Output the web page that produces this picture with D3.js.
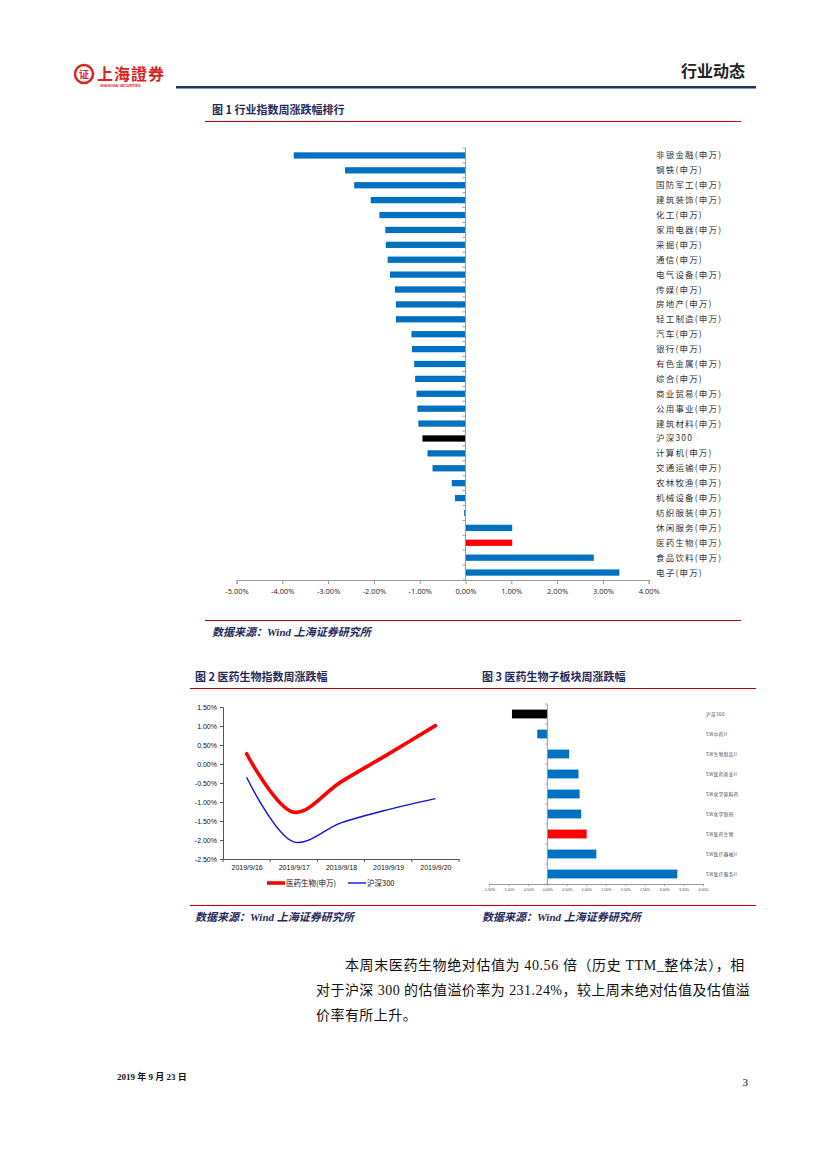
<!DOCTYPE html>
<html>
<head>
<meta charset="utf-8">
<script src="https://cdn.jsdelivr.net/npm/d3@7"></script>
<style>
  body { margin: 0; background: #fff; }
  svg { display: block; }
</style>
</head>
<body>
<script>
// Fig 1 - industry weekly change (%)
const industries = ['非银金融(申万)', '钢铁(申万)', '国防军工(申万)', '建筑装饰(申万)', '化工(申万)', '家用电器(申万)',
  '采掘(申万)', '通信(申万)', '电气设备(申万)', '传媒(申万)', '房地产(申万)', '轻工制造(申万)', '汽车(申万)',
  '银行(申万)', '有色金属(申万)', '综合(申万)', '商业贸易(申万)', '公用事业(申万)', '建筑材料(申万)', '沪深300',
  '计算机(申万)', '交通运输(申万)', '农林牧渔(申万)', '机械设备(申万)', '纺织服装(申万)', '休闲服务(申万)',
  '医药生物(申万)', '食品饮料(申万)', '电子(申万)'];
const industryChg = [-3.75, -2.63, -2.43, -2.07, -1.88, -1.75, -1.74, -1.70, -1.65, -1.54, -1.52, -1.52, -1.18,
  -1.17, -1.12, -1.10, -1.07, -1.05, -1.03, -0.94, -0.83, -0.72, -0.30, -0.23, -0.03, 1.02, 1.02, 2.80, 3.36];
const fig1Ticks = [-5, -4, -3, -2, -1, 0, 1, 2, 3, 4];

// Fig 2 - daily cumulative change (%)
const days = ['2019/9/16', '2019/9/17', '2019/9/18', '2019/9/19', '2019/9/20'];
const pharma = [0.27, -1.27, -0.47, 0.26, 1.01];
const hs300 = [-0.35, -2.05, -1.55, -1.20, -0.91];
const fig2Ticks = [1.5, 1.0, 0.5, 0, -0.5, -1.0, -1.5, -2.0, -2.5];

// Fig 3 - pharma sub-sectors weekly change (%)
const subSectors = ['沪深300', 'SW中药II', 'SW生物制品II', 'SW医药商业II', 'SW化学原料药', 'SW化学制剂',
  'SW医药生物', 'SW医疗器械II', 'SW医疗服务II'];
const subChg = [-0.91, -0.26, 0.56, 0.80, 0.83, 0.87, 1.01, 1.26, 3.34];
const fig3Ticks = [-1.5, -1.0, -0.5, 0, 0.5, 1.0, 1.5, 2.0, 2.5, 3.0, 3.5, 4.0];

const blue = '#0070c0';
const navy = '#1f2a5a';
// plain hyphen for negatives, like the source
const fmt = d => d.toFixed(2) + '%';
const barColor = name => name === '沪深300' ? '#000' : (name.indexOf('医药生物') >= 0 ? '#ff0000' : blue);

const svg = d3.select('body').append('svg')
  .attr('width', 827)
  .attr('height', 1169);

// ---------- header ----------
const hdr = svg.append('g');
hdr.append('circle').attr('cx', 84).attr('cy', 74).attr('r', 9)
  .attr('fill', 'none').attr('stroke', '#d7261e').attr('stroke-width', 2.5);
hdr.append('text').attr('x', 84).attr('y', 78).attr('text-anchor', 'middle')
  .style('font', 'bold 10px "Noto Sans CJK SC"').attr('fill', '#d7261e').text('证');
hdr.append('text').attr('x', 97).attr('y', 80)
  .style('font', 'bold 16px "Noto Sans CJK TC"').attr('fill', '#d7261e')
  .attr('letter-spacing', 1).text('上海證券');
hdr.append('text').attr('x', 100).attr('y', 87)
  .style('font', 'bold 3.5px Arial, "Liberation Sans"').attr('fill', '#d7261e')
  .text('SHANGHAI SECURITIES');
hdr.append('text').attr('x', 745).attr('y', 77).attr('text-anchor', 'end')
  .style('font', 'bold 16px "Noto Sans CJK SC"').attr('fill', '#222').text('行业动态');
hdr.append('rect').attr('x', 176).attr('y', 86).attr('width', 580).attr('height', 2.5).attr('fill', '#17375e');

// ---------- Figure 1 ----------
svg.append('text').attr('x', 212).attr('y', 114)
  .style('font', 'bold 11px "Noto Sans CJK SC"').attr('fill', navy).text('图 1 行业指数周涨跌幅排行');
svg.append('line').attr('x1', 205).attr('x2', 741).attr('y1', 121.5).attr('y2', 121.5)
  .attr('stroke', '#c00000').attr('stroke-width', 1);

const x1 = d3.scaleLinear().domain([-5, 4]).range([236.5, 648.7]);
const y1 = d3.scaleBand().domain(industries).range([148, 580]).paddingInner(0.58).paddingOuter(0.29);

const g1 = svg.append('g');
g1.selectAll('rect.bar').data(industries).join('rect')
  .attr('class', 'bar')
  .attr('x', (d, i) => x1(Math.min(0, industryChg[i])))
  .attr('width', (d, i) => Math.max(0.8, Math.abs(x1(industryChg[i]) - x1(0))))
  .attr('y', d => y1(d))
  .attr('height', y1.bandwidth())
  .attr('fill', d => barColor(d));

// category axis at zero
const yStep = y1.step();
g1.append('line').attr('x1', x1(0)).attr('x2', x1(0)).attr('y1', 148).attr('y2', 580)
  .attr('stroke', '#9a9a9a').attr('stroke-width', 1);
g1.selectAll('line.ytick').data(d3.range(industries.length + 1)).join('line')
  .attr('class', 'ytick')
  .attr('x1', x1(0) - 3).attr('x2', x1(0))
  .attr('y1', i => 148 + i * yStep).attr('y2', i => 148 + i * yStep)
  .attr('stroke', '#9a9a9a');

g1.selectAll('text.lab').data(industries).join('text')
  .attr('class', 'lab')
  .attr('x', 656)
  .attr('y', d => y1(d) + y1.bandwidth() / 2 + 3)
  .attr('letter-spacing', 1.2)
  .style('font', '8.5px "Noto Sans CJK SC"').attr('fill', '#333')
  .text(d => d);

const ax1 = g1.append('g').attr('transform', 'translate(0,580)')
  .call(d3.axisBottom(x1).tickValues(fig1Ticks).tickSize(4).tickFormat(fmt));
ax1.select('.domain').attr('stroke', '#9a9a9a');
ax1.selectAll('.tick line').attr('stroke', '#9a9a9a');
ax1.selectAll('.tick text').attr('y', 9).style('font', '7.5px "Open Sans", Arial').attr('fill', '#222');

svg.append('line').attr('x1', 205).attr('x2', 741).attr('y1', 620.5).attr('y2', 620.5)
  .attr('stroke', '#c00000').attr('stroke-width', 1);
svg.append('text').attr('x', 212).attr('y', 636)
  .style('font', 'italic bold 11px "Liberation Serif", "Noto Sans CJK SC"').attr('fill', navy)
  .text('数据来源：Wind  上海证券研究所');

// ---------- Figure 2 / 3 titles ----------
svg.append('text').attr('x', 195).attr('y', 681)
  .style('font', 'bold 11px "Noto Sans CJK SC"').attr('fill', navy).text('图 2 医药生物指数周涨跌幅');
svg.append('text').attr('x', 482).attr('y', 681)
  .style('font', 'bold 11px "Noto Sans CJK SC"').attr('fill', navy).text('图 3 医药生物子板块周涨跌幅');
svg.append('line').attr('x1', 190).attr('x2', 756).attr('y1', 688.5).attr('y2', 688.5)
  .attr('stroke', '#c00000').attr('stroke-width', 1);

// ---------- Figure 2 ----------
const x2 = d3.scalePoint().domain(days).range([223, 459]).padding(0.5);
const y2 = d3.scaleLinear().domain([-2.5, 1.5]).range([859, 707]);
const g2 = svg.append('g');

const ax2y = g2.append('g').attr('transform', 'translate(223,0)')
  .call(d3.axisLeft(y2).tickValues(fig2Ticks).tickSize(3).tickFormat(fmt));
ax2y.selectAll('.tick text').style('font', '7px Arial, "Liberation Sans"').attr('fill', '#111');
ax2y.select('.domain').attr('stroke', '#555');
ax2y.selectAll('.tick line').attr('stroke', '#555');

const ax2x = g2.append('g').attr('transform', 'translate(0,859)')
  .call(d3.axisBottom(x2).tickSize(0));
ax2x.select('.domain').attr('stroke', '#555');
ax2x.selectAll('.tick text').attr('y', 6).style('font', '7px Arial, "Liberation Sans"').attr('fill', '#111');
g2.selectAll('line.xt').data(d3.range(days.length + 1)).join('line')
  .attr('class', 'xt')
  .attr('x1', i => 223 + i * x2.step()).attr('x2', i => 223 + i * x2.step())
  .attr('y1', 859).attr('y2', 862).attr('stroke', '#555');

const line2 = d3.line().x((d, i) => x2(days[i])).y(d => y2(d)).curve(d3.curveCatmullRom.alpha(0.5));
g2.append('path').datum(hs300).attr('d', line2)
  .attr('fill', 'none').attr('stroke', '#1010e0').attr('stroke-width', 1.4);
g2.append('path').datum(pharma).attr('d', line2)
  .attr('fill', 'none').attr('stroke', '#ff0000').attr('stroke-width', 3.6).attr('stroke-linecap', 'round');

// legend
g2.append('line').attr('x1', 267).attr('x2', 285).attr('y1', 883).attr('y2', 883)
  .attr('stroke', '#ff0000').attr('stroke-width', 3.6);
g2.append('text').attr('x', 286).attr('y', 886)
  .style('font', '7.5px "Noto Sans CJK SC"').attr('fill', '#111').text('医药生物(申万)');
g2.append('line').attr('x1', 348).attr('x2', 366).attr('y1', 883).attr('y2', 883)
  .attr('stroke', '#1010e0').attr('stroke-width', 1.4);
g2.append('text').attr('x', 367).attr('y', 886)
  .style('font', '7.5px "Noto Sans CJK SC"').attr('fill', '#111').text('沪深300');

// ---------- Figure 3 ----------
const x3 = d3.scaleLinear().domain([-1.5, 4]).range([489, 703]);
const y3 = d3.scaleBand().domain(subSectors).range([704, 884]).paddingInner(0.56).paddingOuter(0.28);
const g3 = svg.append('g');

g3.selectAll('rect').data(subSectors).join('rect')
  .attr('x', (d, i) => x3(Math.min(0, subChg[i])))
  .attr('width', (d, i) => Math.abs(x3(subChg[i]) - x3(0)))
  .attr('y', d => y3(d))
  .attr('height', y3.bandwidth())
  .attr('fill', d => barColor(d));

g3.append('line').attr('x1', x3(0)).attr('x2', x3(0)).attr('y1', 704).attr('y2', 884)
  .attr('stroke', '#9a9a9a');
g3.selectAll('line.yt').data(d3.range(subSectors.length + 1)).join('line')
  .attr('class', 'yt')
  .attr('x1', x3(0) - 2).attr('x2', x3(0))
  .attr('y1', i => 704 + i * y3.step()).attr('y2', i => 704 + i * y3.step())
  .attr('stroke', '#9a9a9a');

g3.selectAll('text.lab').data(subSectors).join('text')
  .attr('class', 'lab')
  .attr('x', 706)
  .attr('y', d => y3(d) + y3.bandwidth() / 2 + 1.5)
  .attr('letter-spacing', 0.5)
  .style('font', '4.5px "Noto Sans CJK SC"').attr('fill', '#444')
  .text(d => d);

const ax3 = g3.append('g').attr('transform', 'translate(0,884)')
  .call(d3.axisBottom(x3).tickValues(fig3Ticks).tickSize(2).tickFormat(fmt));
ax3.select('.domain').attr('stroke', '#9a9a9a');
ax3.selectAll('.tick line').attr('stroke', '#9a9a9a');
ax3.selectAll('.tick text').attr('y', 4).style('font', '3.6px Arial, "Liberation Sans"').attr('fill', '#444');

// sources
svg.append('line').attr('x1', 190).attr('x2', 756).attr('y1', 905.5).attr('y2', 905.5)
  .attr('stroke', '#c00000').attr('stroke-width', 1);
svg.append('text').attr('x', 195).attr('y', 921)
  .style('font', 'italic bold 11px "Liberation Serif", "Noto Sans CJK SC"').attr('fill', navy)
  .text('数据来源：Wind 上海证券研究所');
svg.append('text').attr('x', 482).attr('y', 921)
  .style('font', 'italic bold 11px "Liberation Serif", "Noto Sans CJK SC"').attr('fill', navy)
  .text('数据来源：Wind 上海证券研究所');

// ---------- body paragraph ----------
const para = ['本周末医药生物绝对估值为 40.56 倍（历史 TTM_整体法），相',
  '对于沪深 300 的估值溢价率为 231.24%，较上周末绝对估值及估值溢',
  '价率有所上升。'];
svg.selectAll('text.para').data(para).join('text')
  .attr('class', 'para')
  .attr('x', (d, i) => i === 0 ? 345 : 316)
  .attr('y', (d, i) => 970 + i * 25)
  .attr('letter-spacing', (d, i) => i === 0 ? 0.6 : 0.45)
  .style('font', '14px "Liberation Serif", "Noto Sans CJK SC"').attr('fill', '#111')
  .text(d => d);

// ---------- footer ----------
svg.append('text').attr('x', 117).attr('y', 1080)
  .style('font', 'bold 9px "Liberation Serif", "Noto Sans CJK SC"').attr('fill', '#111')
  .text('2019 年 9 月 23 日');
svg.append('text').attr('x', 748).attr('y', 1086).attr('text-anchor', 'end')
  .style('font', '11px "Liberation Serif"').attr('fill', '#111').text('3');
</script>
</body>
</html>
